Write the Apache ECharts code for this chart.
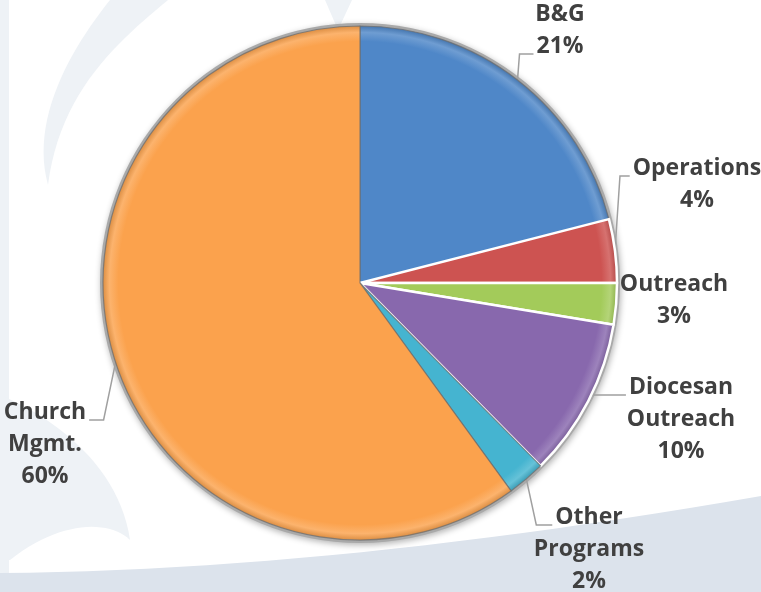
<!DOCTYPE html>
<html>
<head>
<meta charset="utf-8">
<script src="https://cdn.jsdelivr.net/npm/echarts@6/dist/echarts.min.js"></script>
<style>
  html, body { margin: 0; padding: 0; background: #fff; }
  #chart { width: 761px; height: 592px; }
</style>
</head>
<body>
<div id="chart"></div>
<script>
// slice names, clockwise from 12 o'clock
const names = ['B&G', 'Operations', 'Outreach', 'Diocesan\nOutreach', 'Other\nPrograms', 'Church\nMgmt.'];
const values = [21, 4, 2.6, 10, 2.4, 60];
const colors = ['#4F87C8', '#CD5351', '#A3CB5A', '#8868AD', '#45B4D0', '#FBA24D'];
// white separators on the small right-hand slices
const whiteBorder = [false, true, true, true, false, false];

// label block centres, and which text line the leader line runs to (-1 = none)
const labelSpots = [
  [560, 30], [697, 184], [674, 300], [681, 419], [589, 549], [45, 444]
];
const leaderLine = [1, 0, -1, 0, 0, 0];
const leaderBend = [2, 5, 0, 0, 10, -12];

const CX = 360, CY = 283, R = 257;
const FONT_SIZE = 23, LINE_H = 32;
const FONT = 'bold ' + FONT_SIZE + 'px "Open Sans"';

// sample a cubic bezier into points (background decoration only)
const cubic = (p0, p1, p2, p3, n = 24) => {
  const pts = [];
  for (let i = 0; i <= n; i++) {
    const t = i / n, u = 1 - t;
    pts.push([
      u * u * u * p0[0] + 3 * u * u * t * p1[0] + 3 * u * t * t * p2[0] + t * t * t * p3[0],
      u * u * u * p0[1] + 3 * u * u * t * p1[1] + 3 * u * t * t * p2[1] + t * t * t * p3[1]
    ]);
  }
  return pts;
};

const swooshTop = [[168, 0], ...cubic([168, 0], [120, 40], [60, 90], [48, 185]),
  ...cubic([48, 185], [30, 120], [70, 50], [110, 0])];
const swooshLow = [[0, 395], ...cubic([0, 395], [60, 420], [120, 470], [130, 540]),
  ...cubic([130, 540], [110, 520], [60, 520], [10, 560]), [0, 560]];
const band = [...cubic([0, 573], [230, 571], [480, 545], [761, 496]), [761, 592], [0, 592]];

const measureCtx = document.createElement('canvas').getContext('2d');
const textWidth = (s) => { measureCtx.font = FONT; return measureCtx.measureText(s).width; };

const shade = (hex, f) => {
  const n = parseInt(hex.slice(1), 16);
  const ch = [(n >> 16) & 255, (n >> 8) & 255, n & 255].map((c) =>
    Math.round(f > 0 ? c + (255 - c) * f : c * (1 + f)));
  return 'rgb(' + ch.join(',') + ')';
};

// bevel-like rim on each slice
const sliceFill = (c) => ({
  type: 'radial', x: CX, y: CY, r: R, global: true,
  colorStops: [
    { offset: 0, color: c },
    { offset: 0.94, color: c },
    { offset: 0.975, color: shade(c, 0.18) },
    { offset: 1, color: shade(c, -0.12) }
  ]
});

const chart = echarts.init(document.getElementById('chart'));

const data = names.map((n, i) => ({
  name: n,
  value: values[i],
  itemStyle: {
    color: sliceFill(colors[i]),
    borderColor: whiteBorder[i] ? '#ffffff' : 'rgba(110,110,110,0.75)',
    borderWidth: whiteBorder[i] ? 2.5 : 1.2
  },
  labelLine: { show: leaderLine[i] >= 0 }
}));

chart.setOption({
  backgroundColor: '#ffffff',
  graphic: [
    { type: 'rect', shape: { x: 0, y: 0, width: 9, height: 592 }, style: { fill: '#EEF2F6' }, z: -10 },
    { type: 'polygon', shape: { points: swooshTop }, style: { fill: '#EEF2F6' }, z: -10 },
    { type: 'polygon', shape: { points: swooshLow }, style: { fill: '#EEF2F6' }, z: -10 },
    { type: 'polygon', shape: { points: [[325, 0], [352, 0], [338, 30]] }, style: { fill: '#EEF2F6' }, z: -10 },
    { type: 'polygon', shape: { points: band }, style: { fill: '#DCE3EC' }, z: -10 }
  ],
  series: [
    {
      // grey outer rim behind the pie
      type: 'pie',
      center: [CX, CY],
      radius: R + 3,
      silent: true,
      animation: false,
      label: { show: false },
      labelLine: { show: false },
      itemStyle: {
        color: '#A9A9A9',
        shadowBlur: 6,
        shadowColor: 'rgba(0,0,0,0.3)',
        shadowOffsetX: 1,
        shadowOffsetY: 2
      },
      data: [{ value: 1, name: '' }],
      z: 1
    },
    {
      type: 'pie',
      center: [CX, CY],
      radius: R,
      startAngle: 90,
      clockwise: true,
      percentPrecision: 0,
      animation: false,
      z: 2,
      label: {
        show: true,
        position: 'outside',
        alignTo: 'none',
        overflow: 'none',
        bleedMargin: 0,
        formatter: '{b}\n{d}%',
        fontFamily: 'Open Sans',
        fontWeight: 'bold',
        fontSize: FONT_SIZE,
        lineHeight: LINE_H,
        color: '#404040',
        align: 'center'
      },
      labelLine: {
        show: true,
        length: 10,
        length2: 10,
        lineStyle: { color: '#A0A0A0', width: 1.5 }
      },
      labelLayout: (p) => {
        const i = p.dataIndex;
        const [lx, ly] = labelSpots[i];
        const out = { x: lx, y: ly, align: 'center', verticalAlign: 'middle', width: 200 };
        const li = leaderLine[i];
        if (li >= 0 && p.labelLinePoints) {
          const lines = names[i].split('\n').concat(['%']);
          const nLines = lines.length;
          const lineCenter = ly - (nLines * LINE_H) / 2 + LINE_H / 2 + li * LINE_H;
          const endY = lineCenter + 8;
          const half = textWidth(li === nLines - 1 ? '21%' : lines[li]) / 2;
          const anchor = p.labelLinePoints[0];
          const endX = lx > anchor[0] ? lx - half - 3 : lx + half + 3;
          out.labelLinePoints = [anchor, [anchor[0] + leaderBend[i], endY], [endX, endY]];
        }
        return out;
      },
      data: data
    }
  ]
});
</script>
</body>
</html>
